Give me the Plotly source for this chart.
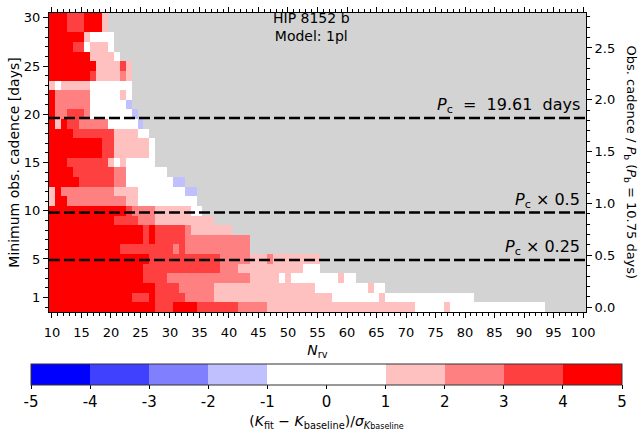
import plotly.graph_objects as go

# ---------------- data ----------------
N_rv = list(range(10, 101))            # columns (number of RVs)
cadence_days = list(range(0, 31))      # rows (minimum obs. cadence, days)
P_b = 10.75
P_c = 19.61
line_factors = [1.0, 0.5, 0.25]
NB = "\u00a0"
line_labels = [f"<i>P</i><sub>c</sub>{NB}{NB}={NB}{NB}19.61{NB}{NB}days",
               "<i>P</i><sub>c</sub> × 0.5",
               "<i>P</i><sub>c</sub> × 0.25"]
cbar_ticks = [-5, -4, -3, -2, -1, 0, 1, 2, 3, 4, 5]

# values (bin mid values), run-length per row, starting at N_rv=10
R, S3, S2, P, W, B = 4.5, 3.5, 2.5, 1.5, 0.0, -1.5
rows = [
    [(R, 18), (S3, 3), (R, 4), (S3, 7), (S2, 5), (P, 25), (W, 5), (P, 1), (W, 16)],   # 0
    [(R, 14), (S3, 3), (R, 1), (S3, 5), (S2, 5), (P, 20), (W, 8), (P, 1), (W, 15)],   # 1
    [(R, 18), (S3, 4), (S2, 6), (P, 17), (W, 9), (P, 1), (W, 2)],                     # 2
    [(R, 16), (S3, 4), (S2, 14), (P, 5), (W, 1), (P, 1), (W, 8), (P, 1), (W, 2)],     # 3
    [(R, 16), (S3, 13), (S2, 3), (P, 11), (W, 3)],                                    # 4
    [(R, 17), (S3, 12), (S2, 5), (P, 3), (S2, 1), (P, 8)],                            # 5
    [(R, 12), (S3, 9), (S2, 1), (S3, 1), (S2, 11)],                                   # 6
    [(R, 16), (S3, 1), (R, 1), (S3, 5), (S2, 11)],                                    # 7
    [(R, 16), (S3, 1), (R, 1), (S3, 5), (S2, 1), (P, 7)],                             # 8
    [(R, 11), (S3, 4), (S2, 3), (P, 10)],                                             # 9
    [(R, 13), (S3, 1), (S2, 4), (P, 6), (W, 2)],                                      # 10
    [(P, 1), (R, 2), (S2, 10), (P, 2), (W, 10)],                                      # 11
    [(P, 1), (R, 1), (S2, 9), (P, 4), (W, 8), (B, 2)],                                # 12
    [(R, 5), (S3, 6), (S2, 2), (W, 8), (B, 2)],                                       # 13
    [(R, 4), (S3, 7), (S2, 2), (W, 7)],                                               # 14
    [(R, 3), (S3, 7), (P, 1), (W, 1), (P, 1), (W, 5)],                                # 15
    [(R, 9), (S3, 2), (P, 6), (W, 1)],                                                # 16
    [(R, 9), (S3, 2), (P, 6), (W, 1)],                                                # 17
    [(R, 4), (S3, 7), (P, 4), (W, 2)],                                                # 18
    [(R, 1), (P, 1), (R, 1), (S3, 2), (S2, 5), (W, 5), (B, 1)],                       # 19
    [(R, 1), (S2, 2), (S3, 3), (S2, 1), (W, 7), (B, 1)],                              # 20
    [(R, 1), (S2, 6), (W, 6), (B, 1)],                                                # 21
    [(R, 1), (S2, 6), (W, 5), (P, 1), (W, 1)],                                        # 22
    [(P, 1), (W, 1), (P, 5), (W, 7)],                                                 # 23
    [(R, 7), (S3, 1), (P, 4), (S2, 1), (P, 1)],                                       # 24
    [(R, 8), (P, 4), (S3, 1), (P, 1)],                                                # 25
    [(R, 7), (P, 4), (W, 1)],                                                         # 26
    [(R, 4), (S3, 2), (W, 1), (P, 3), (W, 1)],                                        # 27
    [(R, 6), (P, 1), (W, 4)],                                                         # 28
    [(R, 3), (S3, 3), (R, 3), (P, 1)],                                                # 29
    [(R, 3), (S3, 3), (R, 3), (P, 1)],                                                # 30
]

z = []
for runs in rows:
    row = []
    for val, cnt in runs:
        row.extend([val] * cnt)
    row.extend([None] * (len(N_rv) - len(row)))
    z.append(row)

bin_colors = ["#0000ff", "#4040ff", "#8080ff", "#c0c0ff", "#ffffff",
              "#ffffff", "#ffc0c0", "#ff8080", "#ff4040", "#ff0000"]
colorscale = []
for i, c in enumerate(bin_colors):
    colorscale.append([i / 10, c])
    colorscale.append([(i + 1) / 10, c])

FONT = "DejaVu Sans"

fig = go.Figure()
fig.add_trace(go.Heatmap(
    x=N_rv, y=cadence_days, z=z,
    zmin=-5, zmax=5, colorscale=colorscale, hoverongaps=False,
    colorbar=dict(
        orientation="h", x=0.5168, xanchor="center", y=-0.174, yanchor="top",
        len=591, lenmode="pixels", thickness=21, thicknessmode="pixels",
        xpad=0, ypad=0, outlinewidth=1, outlinecolor="#333333",
        tickvals=cbar_ticks, ticktext=[str(t) for t in cbar_ticks],
        ticks="outside", ticklen=4, tickcolor="black",
        tickfont=dict(size=15, color="black", family=FONT),
        title=dict(text="(<i>K</i><sub>fit</sub> − <i>K</i><sub>baseline</sub>)/<i>σ</i><sub><i>K</i><span style='font-size:8px'>baseline</span></sub>",
                   side="bottom", font=dict(size=14, color="black", family=FONT)),
    ),
))

# helper trace for the secondary (right) axis, derived from the row values
fig.add_trace(go.Scatter(
    x=[N_rv[0], N_rv[-1]], y=[cadence_days[0] / P_b, cadence_days[-1] / P_b],
    yaxis="y2", mode="lines", line=dict(width=0), hoverinfo="skip", showlegend=False,
))

for f, lab in zip(line_factors, line_labels):
    yv = P_c * f
    fig.add_shape(type="line", xref="paper", x0=0, x1=1, yref="y", y0=yv, y1=yv,
                  line=dict(color="black", width=2.5, dash="11px,4px"))
    fig.add_annotation(text=lab, xref="paper", x=0.9926, xanchor="right",
                       yref="y", y=yv, yanchor="bottom", yshift=0, showarrow=False,
                       font=dict(size=16, color="black", family=FONT))

fig.add_annotation(text="HIP 8152 b<br>Model: 1pl", xref="paper", x=0.488, xanchor="center",
                   yref="paper", y=1, yanchor="top", yshift=5, showarrow=False,
                   font=dict(size=14, color="black", family=FONT))

fig.add_annotation(text="Obs. cadence / <i>P</i><sub>b</sub> (<i>P</i><sub>b</sub> = 10.75 days)",
                   xref="paper", x=1, xanchor="center", xshift=44, yref="paper", y=0.5,
                   yanchor="middle", textangle=90, showarrow=False,
                   font=dict(size=13, color="black", family=FONT))

axis_common = dict(showgrid=False, zeroline=False, showline=True, linecolor="black",
                   linewidth=1, ticks="outside", ticklen=5, tickwidth=1, tickcolor="black",
                   tickfont=dict(size=13, color="black", family=FONT))

fig.update_layout(
    width=639, height=438,
    margin=dict(l=49, r=53, t=7, b=111, pad=0),
    paper_bgcolor="white", plot_bgcolor="#d3d3d3",
    font=dict(family=FONT, color="black"),
    showlegend=False,
    xaxis=dict(range=[9.5, 100.5], tickvals=list(range(10, 101, 5)), mirror="ticks",
               ticklabelstandoff=3,
               minor=dict(ticks="outside", dtick=1, tick0=0, ticklen=3, tickwidth=1, tickcolor="black"),
               title=dict(text="<i>N</i><sub>rv</sub>", font=dict(size=14, color="black", family=FONT), standoff=6),
               **axis_common),
    yaxis=dict(range=[-0.5, 30.5], tickvals=[1, 5, 10, 15, 20, 25, 30], mirror=True,
               minor=dict(ticks="outside", dtick=1, tick0=0, ticklen=3, tickwidth=1, tickcolor="black"),
               title=dict(text="Minimum obs. cadence [days]", font=dict(size=14, color="black", family=FONT), standoff=0),
               **axis_common),
    yaxis2=dict(overlaying="y", side="right", anchor="x",
                range=[-0.5 / P_b, 30.5 / P_b],
                tickvals=[0, 0.5, 1.0, 1.5, 2.0, 2.5],
                ticktext=["0.0", "0.5", "1.0", "1.5", "2.0", "2.5"],
                minor=dict(ticks="outside", dtick=0.1, tick0=0, ticklen=3, tickwidth=1, tickcolor="black"),
                **axis_common),
)

fig.write_html("out.html")
